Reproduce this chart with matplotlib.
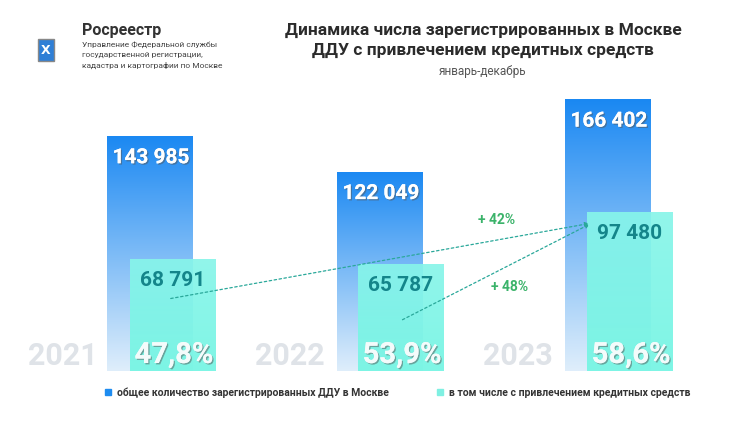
import matplotlib
matplotlib.use("Agg")
import matplotlib.pyplot as plt
import numpy as np
import matplotlib.patheffects as pe
from matplotlib.patches import Rectangle

years = ["2021", "2022", "2023"]
total = [143985, 122049, 166402]
credit = [68791, 65787, 97480]
total_labels = ["143 985", "122 049", "166 402"]
credit_labels = ["68 791", "65 787", "97 480"]
share_labels = ["47,8%", "53,9%", "58,6%"]
growth_labels = ["+ 42%", "+ 48%"]
legend_labels = ["общее количество зарегистрированных ДДУ в Москве",
                 "в том числе с привлечением кредитных средств"]

W, H = 750, 427
fig = plt.figure(figsize=(7.5, 4.27), dpi=100)
ax = fig.add_axes([0, 0, 1, 1])
S = 612.0
base_px = 372
ax.set_xlim(0, W)
ax.set_ylim(-(H - base_px) * S, base_px * S)
ax.axis("off")
FONT = "Roboto"
shadow = [pe.withSimplePatchShadow(offset=(1, -1), shadow_rgbFace="#555555", alpha=0.5), pe.Normal()]

def grad_bar(x0, w, h, c_top, c_bot, z=2, alpha=1.0):
    g = np.linspace(0, 1, 256).reshape(-1, 1)
    ct = np.array(matplotlib.colors.to_rgb(c_top)); cb = np.array(matplotlib.colors.to_rgb(c_bot))
    img = ct[None, None, :] * (1 - g[:, :, None]) + cb[None, None, :] * g[:, :, None]
    im = ax.imshow(img, extent=[x0, x0 + w, 0, h], aspect="auto", origin="upper", zorder=z, alpha=alpha)
    r = Rectangle((x0, 0), w, h, transform=ax.transData, facecolor="none", edgecolor="none")
    ax.add_patch(r); im.set_clip_path(r)

BW = 86
blue_x = [107, 337, 565]
cyan_x = [130, 358, 587]
year_x = [63, 290, 518]
for i in range(3):
    grad_bar(blue_x[i], BW, total[i], "#1a88f2", "#dfeefb", z=2)
    grad_bar(cyan_x[i], BW, credit[i], "#88f6ea", "#74f5e3", z=3, alpha=0.92)
    ax.text(blue_x[i] + 44, total[i] - 22 * S, total_labels[i], ha="center", va="center",
            color="white", fontsize=15, fontweight="bold", family=FONT, zorder=5, path_effects=shadow)
    ax.text(cyan_x[i] + 43, credit[i] - 21 * S, credit_labels[i],
            ha="center", va="center", color="#14858a", fontsize=15, fontweight="bold", family=FONT, zorder=5)
    ax.text(cyan_x[i] + 44, 16 * S, share_labels[i], ha="center", va="center",
            color="#f4fbfb", fontsize=21, fontweight="bold", family=FONT, zorder=5, path_effects=shadow)
    ax.text(year_x[i], 16 * S, years[i], ha="center", va="center",
            color="#dfe3e8", fontsize=22, fontweight="bold", family=FONT, zorder=5)

for (x0, y0) in [(168, 300), (400, 322)]:
    ax.annotate("", xy=(592, (base_px - 224) * S), xytext=(x0, (base_px - y0) * S),
                arrowprops=dict(arrowstyle="-|>", linestyle=(0, (2, 2)), color="#2aa89a", lw=0.9,
                                mutation_scale=6), zorder=6)
ax.text(497, (base_px - 220) * S, growth_labels[0], ha="center", va="center", color="#3bb36a",
        fontsize=10, fontweight="bold", family=FONT)
ax.text(510, (base_px - 287) * S, growth_labels[1], ha="center", va="center", color="#3bb36a",
        fontsize=10, fontweight="bold", family=FONT)

ax.add_patch(Rectangle((105, (base_px - 396) * S), 6, 6 * S, color="#1e8cf0"))
ax.text(117, (base_px - 393) * S, legend_labels[0], va="center", fontsize=7.5, fontweight="bold",
        color="#333333", family=FONT)
ax.add_patch(Rectangle((437, (base_px - 396) * S), 6, 6 * S, color="#7ff0e2"))
ax.text(449, (base_px - 393) * S, legend_labels[1], va="center", fontsize=7.5, fontweight="bold",
        color="#333333", family=FONT)

ax.text(483, (base_px - 30) * S, "Динамика числа зарегистрированных в Москве", ha="center", va="center",
        fontsize=12.5, fontweight="bold", color="#2b2b2b", family=FONT)
ax.text(483, (base_px - 50) * S, "ДДУ с привлечением кредитных средств", ha="center", va="center",
        fontsize=12.5, fontweight="bold", color="#2b2b2b", family=FONT)
ax.text(483, (base_px - 72) * S, "январь-декабрь", ha="center", va="center",
        fontsize=8.5, color="#555555", family=FONT)

ax.text(82, (base_px - 30) * S, "Росреестр", va="center", fontsize=11.5, fontweight="bold",
        color="#333333", family=FONT)
for j, t in enumerate(["Управление Федеральной службы", "государственной регистрации,",
                       "кадастра и картографии по Москве"]):
    ax.text(82, (base_px - (45 + j * 10)) * S, t, va="center", fontsize=6, color="#444444", family=FONT)
ax.add_patch(Rectangle((38, (base_px - 62) * S), 16, 22 * S, facecolor="#2f7fd6", edgecolor="#888888", lw=1))
ax.text(46, (base_px - 51) * S, "X", ha="center", va="center", color="white", fontsize=9, fontweight="bold")

fig.savefig("out.png", dpi=100)
